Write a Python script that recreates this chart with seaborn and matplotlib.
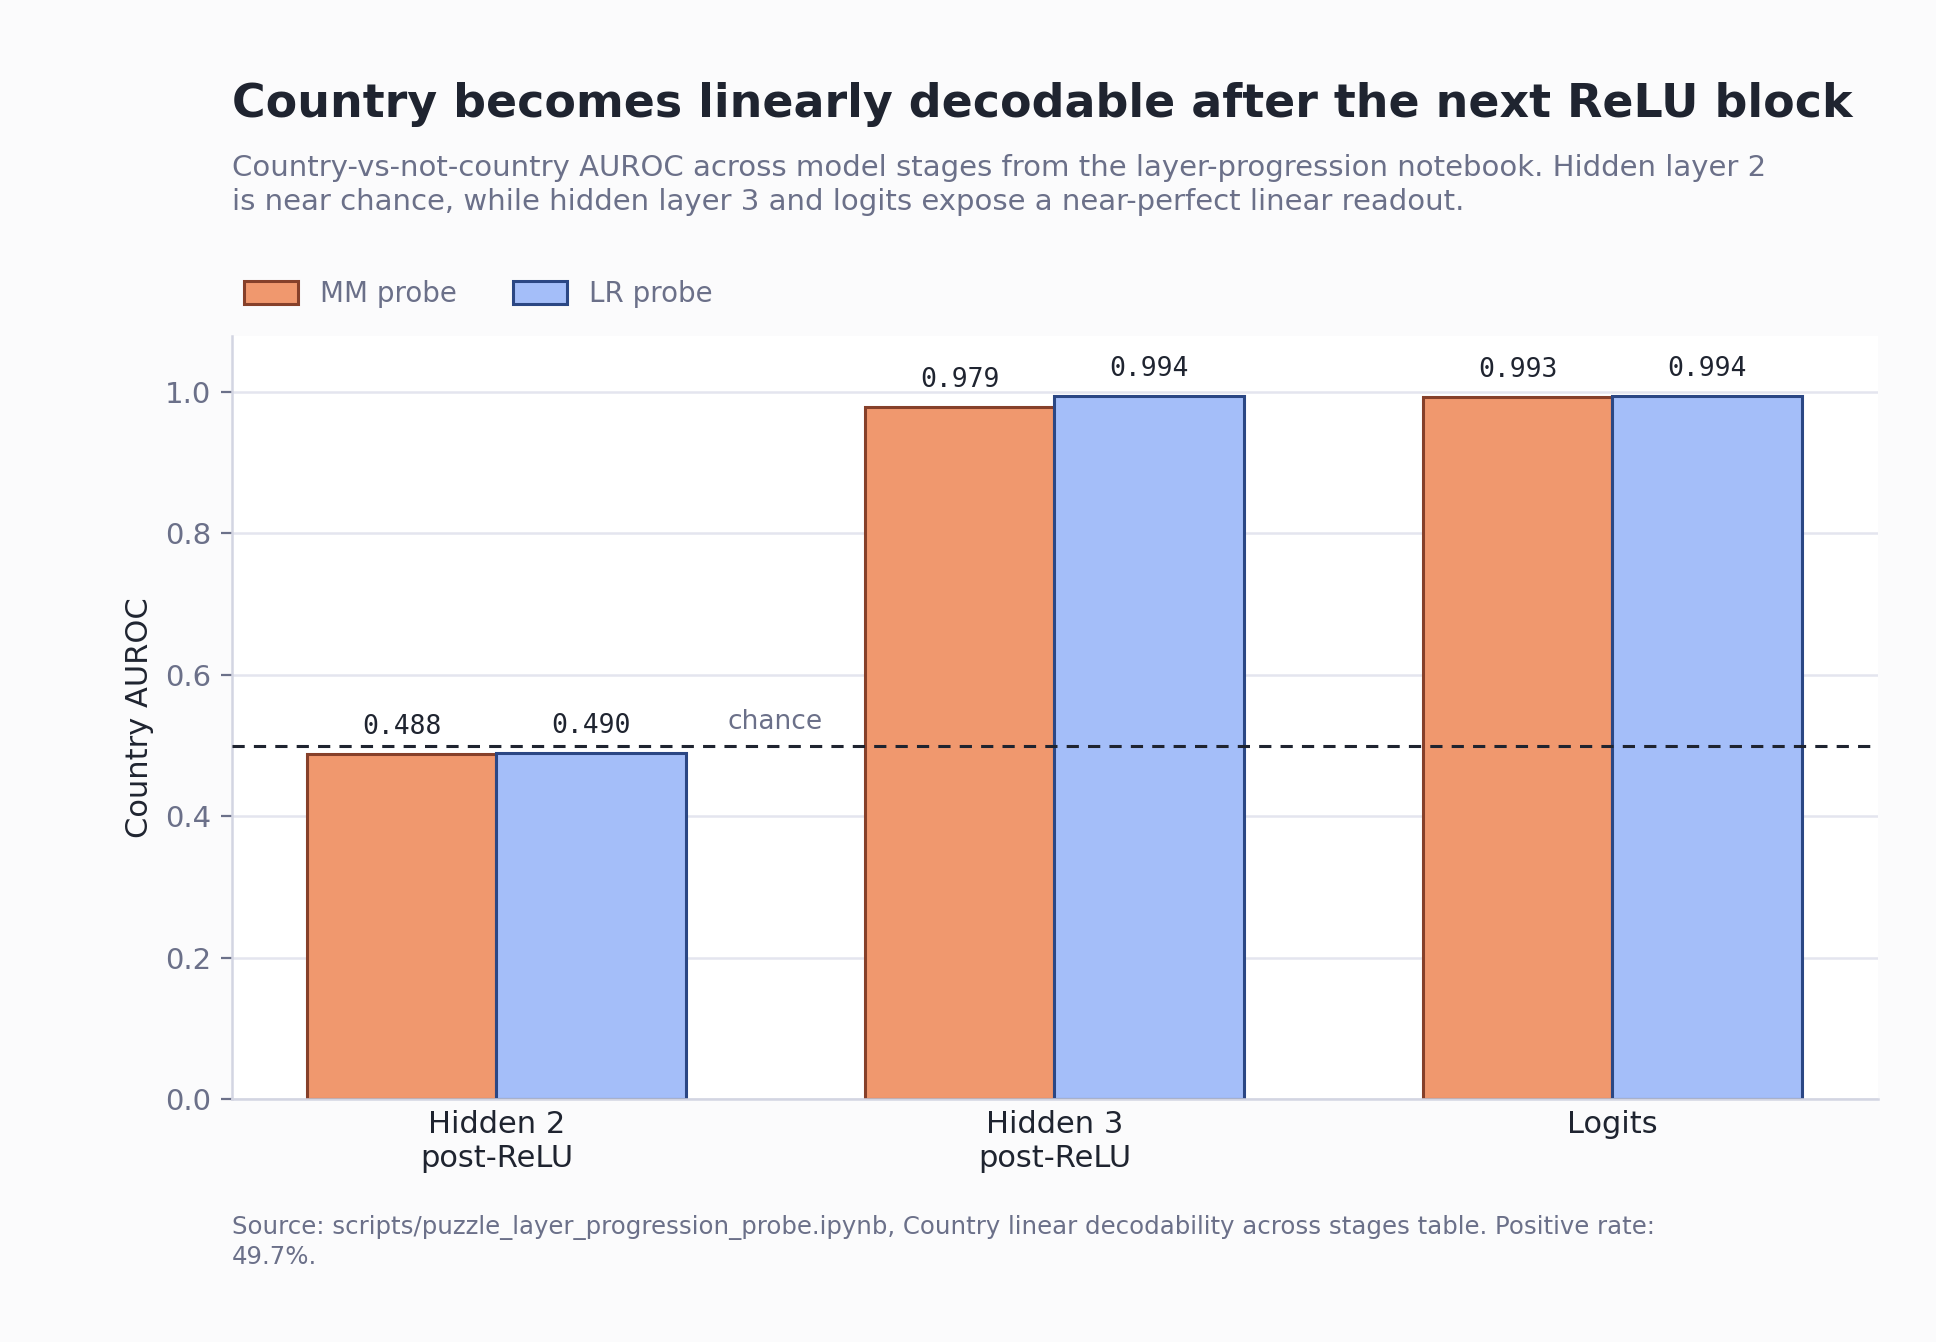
import pandas as pd
import seaborn as sns
import matplotlib.pyplot as plt

# data
stages = ["Hidden 2\npost-ReLU", "Hidden 3\npost-ReLU", "Logits"]
mm_probe = [0.488, 0.979, 0.993]
lr_probe = [0.490, 0.994, 0.994]
probe_names = ["MM probe", "LR probe"]
chance = 0.5

fills = {"MM probe": "#f0986e", "LR probe": "#a4bef9"}
edges = {"MM probe": "#86402a", "LR probe": "#2b4784"}

df = pd.DataFrame({
    "stage": stages * 2,
    "probe": ["MM probe"] * 3 + ["LR probe"] * 3,
    "auroc": mm_probe + lr_probe,
})

sns.set_theme(style="white")
plt.rcParams["font.family"] = ["DejaVu Sans"]

fig = plt.figure(figsize=(9.68, 6.71), dpi=200, facecolor="#fbfbfc")
ax = fig.add_axes([0.1198, 0.181, 0.8502, 0.569])
ax.set_facecolor("white")

sns.barplot(data=df, x="stage", y="auroc", hue="probe", hue_order=probe_names,
            palette=fills, width=0.68, saturation=1, ax=ax, legend=False)

for cont, name in zip(ax.containers, probe_names):
    for bar in cont:
        bar.set_edgecolor(edges[name])
        bar.set_linewidth(1.1)
    ax.bar_label(cont, fmt="%.3f", padding=5, fontsize=9.5,
                 family="DejaVu Sans Mono", color="#1f2430")

ax.axhline(chance, color="#1f2430", ls=(0, (4, 3)), lw=1.1, zorder=3)
ax.text(0.5, chance + 0.015, "chance", ha="center", va="bottom",
        fontsize=9.5, color="#6b7089")

ax.set_ylim(0, 1.08)
ax.set_xlim(-0.474, 2.476)
ax.set_yticks([0, 0.2, 0.4, 0.6, 0.8, 1.0])
ax.yaxis.grid(True, color="#e4e5ef", lw=0.9)
ax.set_axisbelow(True)
for s in ["top", "right"]:
    ax.spines[s].set_visible(False)
for s in ["left", "bottom"]:
    ax.spines[s].set_color("#d3d5e2")
    ax.spines[s].set_linewidth(0.9)
ax.tick_params(axis="y", labelsize=10.5, labelcolor="#6b7089", color="#6b7089",
               length=4, width=0.8, left=True)
ax.tick_params(axis="x", labelsize=11, labelcolor="#1f2430", length=0, pad=4)
ax.set_xlabel("")
ax.set_ylabel("Country AUROC", fontsize=11, color="#1f2430", labelpad=4)

handles = [plt.Rectangle((0, 0), 1, 1, facecolor=fills[n], edgecolor=edges[n], lw=1.1)
           for n in probe_names]
fig.legend(handles, probe_names, loc="center left", bbox_to_anchor=(0.113, 0.781),
           ncol=2, frameon=False, fontsize=10, labelcolor="#6b7089",
           handlelength=1.95, handleheight=0.9, handletextpad=0.8, columnspacing=2.0)

fig.text(0.1198, 0.922, "Country becomes linearly decodable after the next ReLU block",
         fontsize=16.5, fontweight="bold", color="#1f2430", va="center")
fig.text(0.1198, 0.862,
         "Country-vs-not-country AUROC across model stages from the layer-progression notebook. Hidden layer 2\n"
         "is near chance, while hidden layer 3 and logits expose a near-perfect linear readout.",
         fontsize=10.5, color="#6b7089", va="center", linespacing=1.3)
fig.text(0.1198, 0.0745,
         "Source: scripts/puzzle_layer_progression_probe.ipynb, Country linear decodability across stages table. Positive rate:\n"
         "49.7%.",
         fontsize=8.8, color="#6b7089", va="center", linespacing=1.3)

fig.savefig("out.png", dpi=200, facecolor=fig.get_facecolor())
